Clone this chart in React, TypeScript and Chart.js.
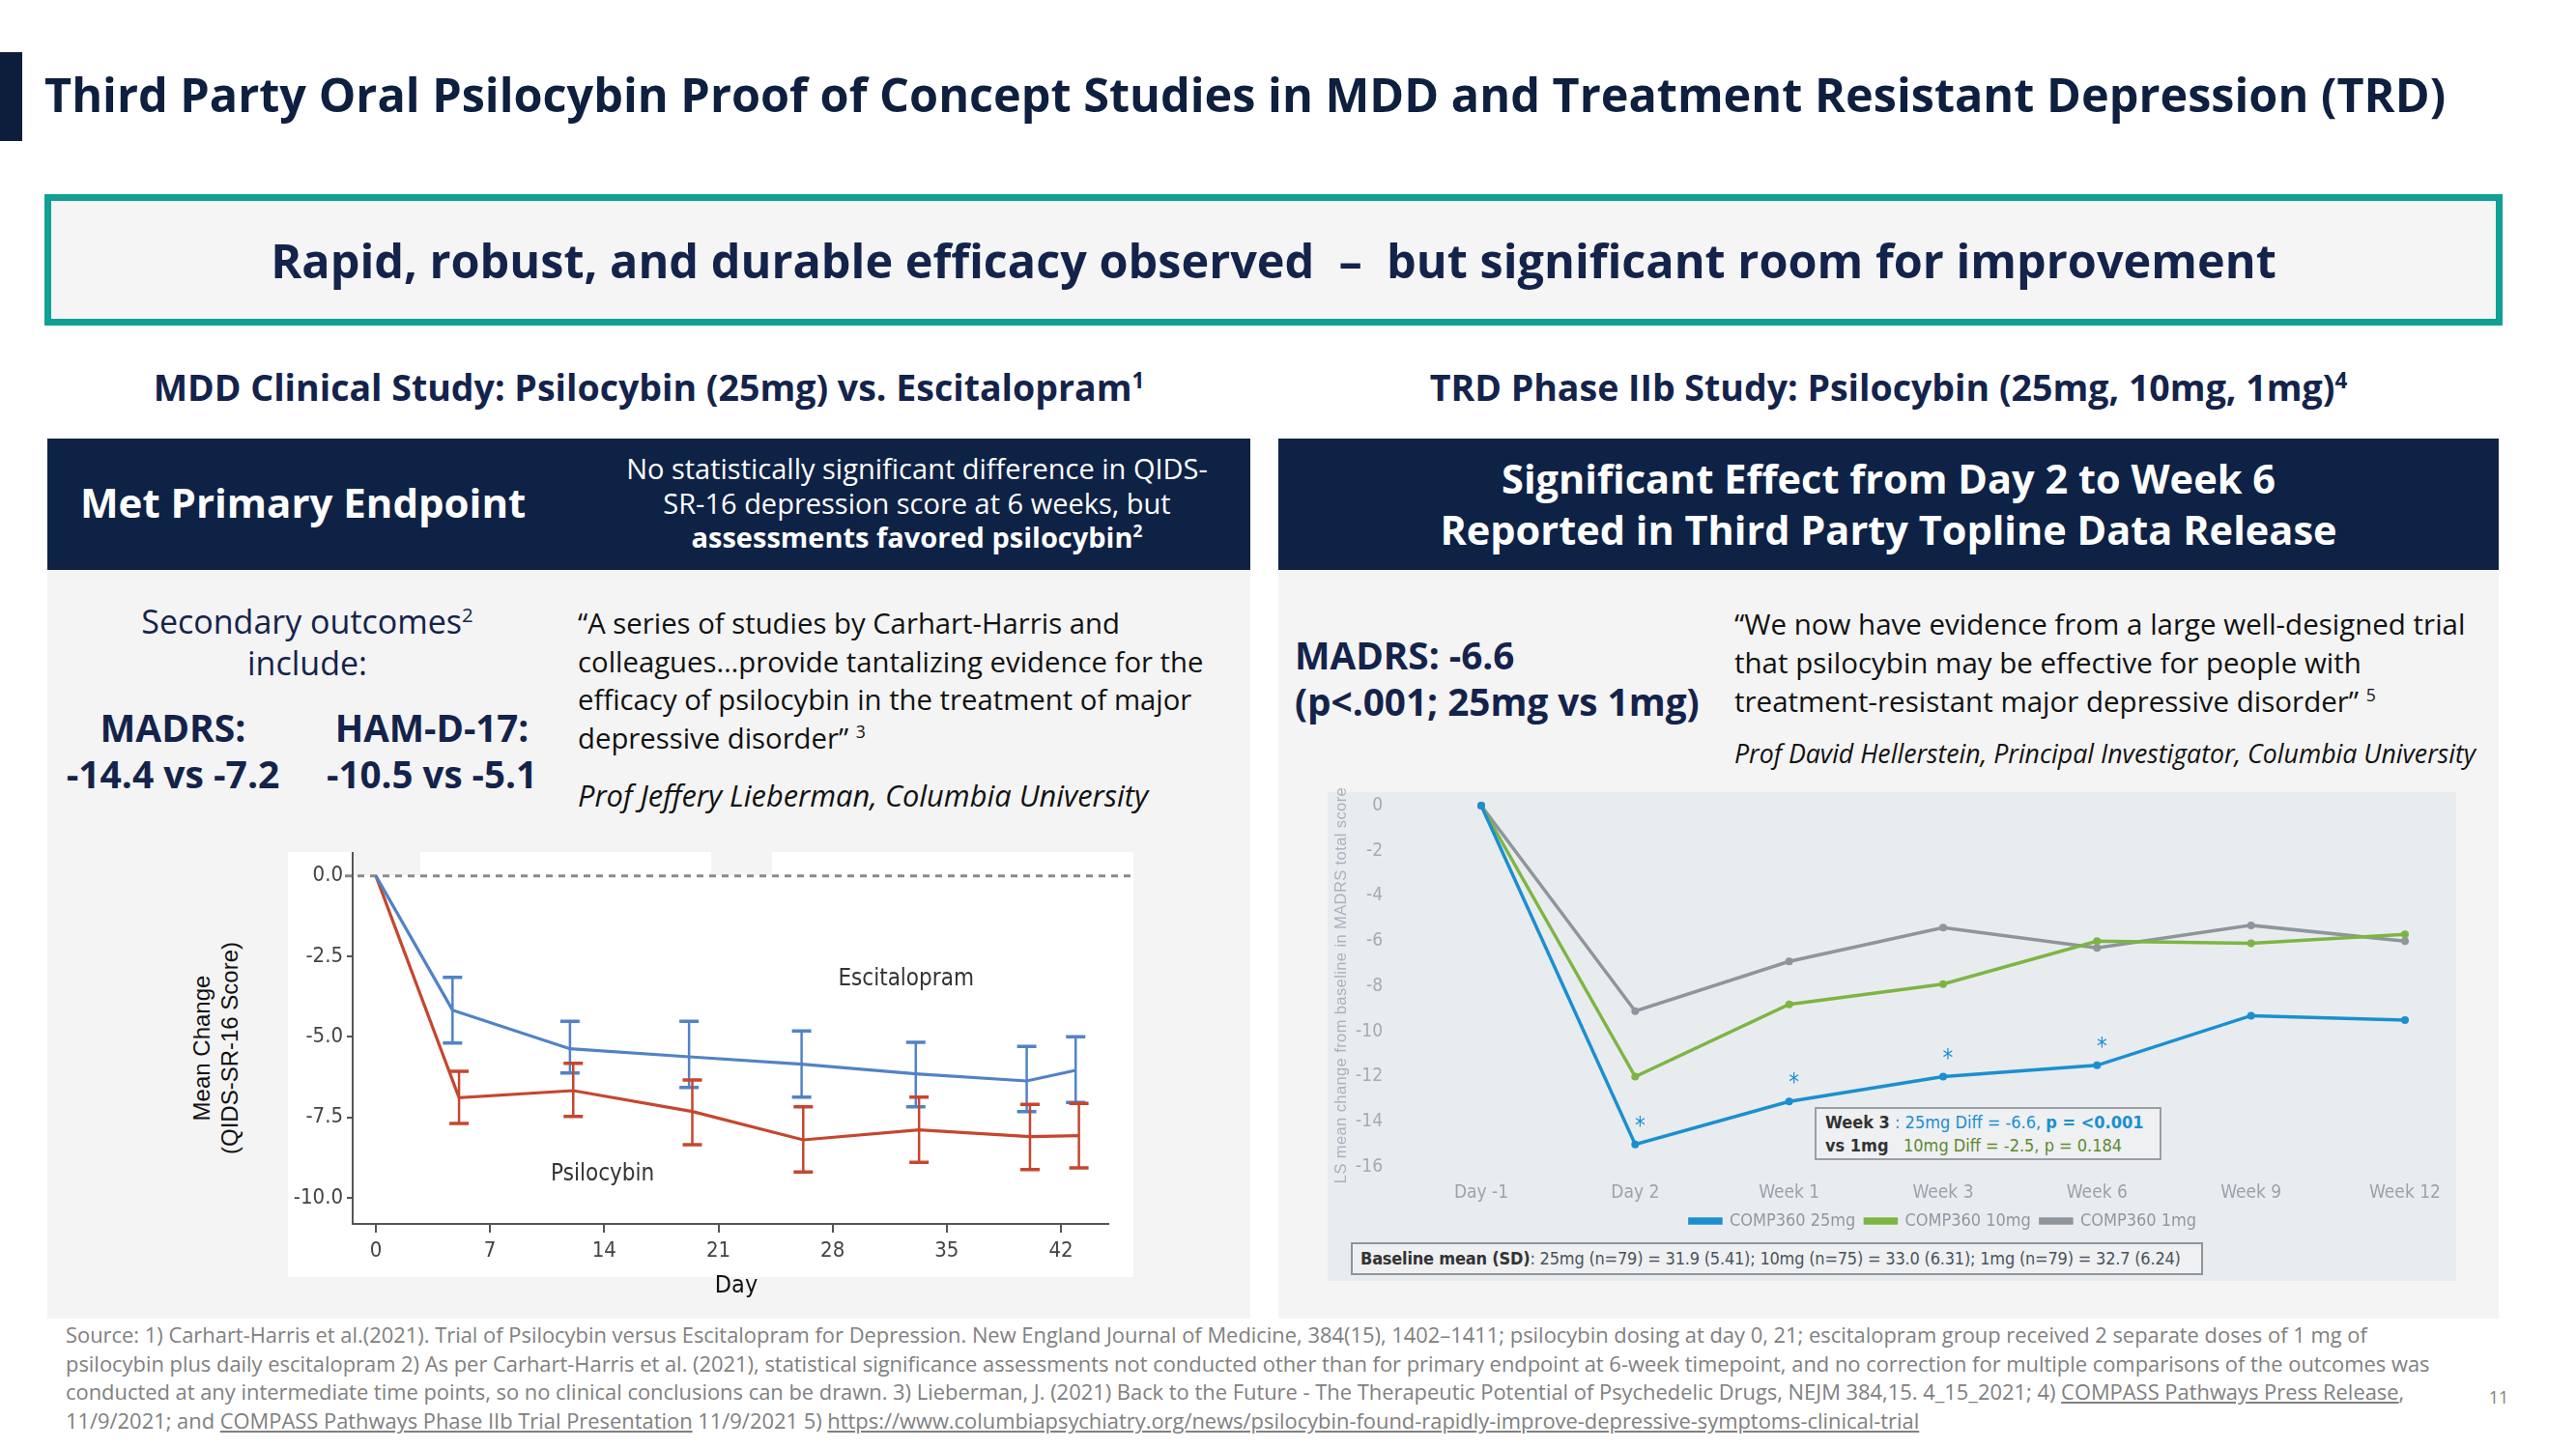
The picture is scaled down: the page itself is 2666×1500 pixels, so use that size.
import React, { useEffect, useRef } from 'react';
import { Chart, registerables } from 'chart.js';

Chart.register(...registerables);

// ---------- Left chart (MDD study) data ----------
const mddDayTicks = [0, 7, 14, 21, 28, 35, 42];
const mddYTicks = [0, -2.5, -5, -7.5, -10];
const escDays = [0, 4.7, 11.9, 19.2, 26.1, 33.1, 39.9, 42.9];
const escMean = [0, -4.17, -5.37, -5.62, -5.85, -6.15, -6.37, -6.04];
const escUpper = [0, -3.15, -4.52, -4.52, -4.82, -5.17, -5.3, -5.0];
const escLower = [0, -5.19, -6.12, -6.57, -6.87, -7.17, -7.32, -7.04];
const psiDays = [0, 5.1, 12.1, 19.4, 26.2, 33.3, 40.1, 43.1];
const psiMean = [0, -6.89, -6.67, -7.32, -8.2, -7.89, -8.1, -8.07];
const psiUpper = [0, -6.07, -5.82, -6.34, -7.17, -6.87, -7.1, -7.07];
const psiLower = [0, -7.69, -7.47, -8.35, -9.2, -8.9, -9.12, -9.07];
const seriesNames = ['Escitalopram', 'Psilocybin'];
const seriesLabelDay = [32.5, 13.9];
const seriesLabelValue = [-3.22, -9.27];

// ---------- Right chart (TRD study) data ----------
const trdLabels = ['Day -1', 'Day 2', 'Week 1', 'Week 3', 'Week 6', 'Week 9', 'Week 12'];
const trdYTicks = [0, -2, -4, -6, -8, -10, -12, -14, -16];
const dose25 = [0, -15.0, -13.1, -12.0, -11.5, -9.3, -9.5];
const dose10 = [0, -12.0, -8.8, -7.9, -6.0, -6.1, -5.7];
const dose1 = [0, -9.1, -6.9, -5.4, -6.3, -5.3, -6.0];
const trdSeriesNames = ['COMP360 25mg', 'COMP360 10mg', 'COMP360 1mg'];
const starIndices = [1, 2, 3, 4];

const NAVY = '#0e2246';
const TEXT_NAVY = '#14234b';
const ESC_COLOR = '#5282c6';
const PSI_COLOR = '#c6462f';
const C25 = '#1b8fd0';
const C10 = '#7db543';
const C1 = '#8e959b';
const NARROW = "'Liberation Sans Narrow', 'Arial Narrow', 'DejaVu Sans Condensed', 'Open Sans', sans-serif";
const OPEN = "'Open Sans', 'Noto Sans', sans-serif";

const mddPlugin = {
  id: 'mddExtras',
  beforeDatasetsDraw(chart: any) {
    const { ctx, scales } = chart;
    const y0 = scales.y.getPixelForValue(0);
    ctx.save();
    ctx.strokeStyle = '#8a8a8a';
    ctx.lineWidth = 3;
    ctx.setLineDash([7, 6]);
    ctx.beginPath();
    ctx.moveTo(chart.chartArea.left - 8, y0);
    ctx.lineTo(chart.width, y0);
    ctx.stroke();
    ctx.restore();
  },
  afterDatasetsDraw(chart: any) {
    const { ctx, scales } = chart;
    const x = scales.x;
    const y = scales.y;
    const series = [
      { days: escDays, lo: escLower, hi: escUpper, color: ESC_COLOR },
      { days: psiDays, lo: psiLower, hi: psiUpper, color: PSI_COLOR },
    ];
    ctx.save();
    series.forEach((s) => {
      ctx.strokeStyle = s.color;
      s.days.forEach((d, i) => {
        if (s.lo[i] === s.hi[i]) return;
        const px = x.getPixelForValue(d);
        const y1 = y.getPixelForValue(s.hi[i]);
        const y2 = y.getPixelForValue(s.lo[i]);
        ctx.lineWidth = 2.5;
        ctx.beginPath();
        ctx.moveTo(px, y1);
        ctx.lineTo(px, y2);
        ctx.stroke();
        ctx.lineWidth = 3.5;
        ctx.beginPath();
        ctx.moveTo(px - 10, y1);
        ctx.lineTo(px + 10, y1);
        ctx.moveTo(px - 10, y2);
        ctx.lineTo(px + 10, y2);
        ctx.stroke();
      });
    });
    ctx.fillStyle = '#333';
    ctx.font = `24px ${NARROW}`;
    ctx.textAlign = 'center';
    ctx.textBaseline = 'middle';
    seriesNames.forEach((n, i) => {
      ctx.fillText(n, x.getPixelForValue(seriesLabelDay[i]), y.getPixelForValue(seriesLabelValue[i]));
    });
    ctx.restore();
  },
};

const trdPlugin = {
  id: 'trdStars',
  afterDatasetsDraw(chart: any) {
    const { ctx } = chart;
    const meta = chart.getDatasetMeta(0);
    ctx.save();
    ctx.fillStyle = C25;
    ctx.font = `24px ${NARROW}`;
    ctx.textAlign = 'center';
    ctx.textBaseline = 'middle';
    starIndices.forEach((i) => {
      const pt = meta.data[i];
      ctx.fillText('*', pt.x + 5, pt.y - 18);
    });
    ctx.restore();
  },
};

function MddChart() {
  const ref = useRef<HTMLCanvasElement>(null);
  useEffect(() => {
    const tickFont = { family: NARROW, size: 22 };
    const chart = new Chart(ref.current as HTMLCanvasElement, {
      type: 'line',
      data: {
        datasets: [
          {
            label: 'Escitalopram',
            data: escDays.map((d, i) => ({ x: d, y: escMean[i] })),
            borderColor: ESC_COLOR,
            backgroundColor: ESC_COLOR,
            borderWidth: 3.2,
            pointRadius: 0,
            tension: 0,
          },
          {
            label: 'Psilocybin',
            data: psiDays.map((d, i) => ({ x: d, y: psiMean[i] })),
            borderColor: PSI_COLOR,
            backgroundColor: PSI_COLOR,
            borderWidth: 3.2,
            pointRadius: 0,
            tension: 0,
          },
        ],
      },
      options: {
        animation: false,
        responsive: false,
        devicePixelRatio: 1,
        layout: { padding: { top: 0, right: 26, bottom: 0, left: 0 } },
        plugins: { legend: { display: false }, tooltip: { enabled: false } },
        scales: {
          x: {
            type: 'linear',
            min: -1.42,
            max: 44.9,
            afterBuildTicks: (a: any) => {
              a.ticks = mddDayTicks.map((v) => ({ value: v }));
            },
            afterFit: (a: any) => {
              a.height = 55;
              a.paddingLeft = 0;
              a.paddingRight = 0;
            },
            grid: { display: true, drawOnChartArea: false, drawTicks: true, tickLength: 9, color: '#555', lineWidth: 2 },
            border: { display: true, color: '#555', width: 2 },
            ticks: { color: '#444', font: tickFont, padding: 6, maxRotation: 0 },
          },
          y: {
            type: 'linear',
            min: -10.81,
            max: 0.74,
            afterBuildTicks: (a: any) => {
              a.ticks = mddYTicks.map((v) => ({ value: v }));
            },
            afterFit: (a: any) => {
              a.width = 67;
              a.paddingTop = 0;
              a.paddingBottom = 0;
            },
            grid: { display: true, drawOnChartArea: false, drawTicks: true, tickLength: 6, color: '#555', lineWidth: 2 },
            border: { display: true, color: '#555', width: 2 },
            ticks: {
              color: '#444',
              font: tickFont,
              padding: 4,
              callback: (v: any) => Number(v).toFixed(1),
            },
          },
        },
      },
      plugins: [mddPlugin],
    } as any);
    return () => chart.destroy();
  }, []);
  return <canvas ref={ref} width={875} height={440} style={{ position: 'absolute', left: 298, top: 882, width: 875, height: 440 }} />;
}

function TrdChart() {
  const ref = useRef<HTMLCanvasElement>(null);
  useEffect(() => {
    const mk = (label: string, data: number[], color: string) => ({
      label,
      data,
      borderColor: color,
      backgroundColor: color,
      borderWidth: 3.5,
      pointRadius: 4,
      pointBorderWidth: 0,
      pointBackgroundColor: color,
      tension: 0,
      clip: false,
    });
    const chart = new Chart(ref.current as HTMLCanvasElement, {
      type: 'line',
      data: {
        labels: trdLabels,
        datasets: [
          mk(trdSeriesNames[0], dose25, C25),
          mk(trdSeriesNames[1], dose10, C10),
          mk(trdSeriesNames[2], dose1, C1),
        ],
      },
      options: {
        animation: false,
        responsive: false,
        devicePixelRatio: 1,
        layout: { padding: { top: 14, right: 53, bottom: 0, left: 0 } },
        plugins: {
          tooltip: { enabled: false },
          legend: {
            position: 'bottom',
            fullSize: false,
            labels: {
              boxWidth: 32,
              boxHeight: 4,
              color: '#8f98a0',
              font: { family: NARROW, size: 18 },
              padding: 10,
            },
          },
        },
        scales: {
          x: {
            offset: false,
            grid: { display: false },
            border: { display: false },
            afterFit: (a: any) => {
              a.height = 37;
              a.paddingLeft = 0;
              a.paddingRight = 0;
            },
            ticks: { color: '#9aa3ab', font: { family: NARROW, size: 19 }, padding: 8, maxRotation: 0 },
          },
          y: {
            min: -16,
            max: 0,
            afterBuildTicks: (a: any) => {
              a.ticks = trdYTicks.map((v) => ({ value: v }));
            },
            afterFit: (a: any) => {
              a.width = 159;
              a.paddingTop = 0;
              a.paddingBottom = 0;
            },
            grid: { display: false },
            border: { display: false },
            ticks: { color: '#a3abb3', font: { family: NARROW, size: 19 }, padding: 94 },
          },
        },
      },
      plugins: [trdPlugin],
    } as any);
    return () => chart.destroy();
  }, []);
  return <canvas ref={ref} width={1168} height={463} style={{ position: 'absolute', left: 1374, top: 820, width: 1168, height: 463 }} />;
}

const abs = (s: React.CSSProperties): React.CSSProperties => ({ position: 'absolute', ...s });

export default function App() {
  const sup = { fontSize: '0.6em', verticalAlign: 'super', lineHeight: 0 } as React.CSSProperties;
  return (
    <div style={{ position: 'absolute', left: 0, top: 0, width: 2666, height: 1500, background: '#ffffff', fontFamily: OPEN, overflow: 'hidden' }}>
      {/* Title */}
      <div style={abs({ left: 0, top: 54, width: 23, height: 92, background: '#0d1e3c' })} />
      <div style={abs({ left: 46, top: 67, height: 60, lineHeight: '60px', fontSize: 48.6, fontWeight: 700, color: '#0e1f3f', whiteSpace: 'nowrap' })}>
        Third Party Oral Psilocybin Proof of Concept Studies in MDD and Treatment Resistant Depression (TRD)
      </div>

      {/* Teal banner */}
      <div
        style={abs({
          left: 46,
          top: 201,
          width: 2544,
          height: 136,
          boxSizing: 'border-box',
          border: '7px solid #10a095',
          background: '#f5f5f5',
          display: 'flex',
          alignItems: 'center',
          justifyContent: 'center',
          fontSize: 48.6,
          fontWeight: 700,
          color: TEXT_NAVY,
          whiteSpace: 'pre',
        })}
      >
        {'Rapid, robust, and durable efficacy observed  –  but significant room for improvement'}
      </div>

      {/* Section subtitles */}
      <div style={abs({ left: 49, top: 376, width: 1245, lineHeight: '50px', textAlign: 'center', fontSize: 37.5, fontWeight: 700, color: TEXT_NAVY, whiteSpace: 'nowrap' })}>
        MDD Clinical Study: Psilocybin (25mg) vs. Escitalopram<span style={sup}>1</span>
      </div>
      <div style={abs({ left: 1323, top: 376, width: 1263, lineHeight: '50px', textAlign: 'center', fontSize: 37.5, fontWeight: 700, color: TEXT_NAVY, whiteSpace: 'nowrap' })}>
        TRD Phase IIb Study: Psilocybin (25mg, 10mg, 1mg)<span style={sup}>4</span>
      </div>

      {/* Left panel */}
      <div style={abs({ left: 49, top: 454, width: 1245, height: 136, background: NAVY })} />
      <div style={abs({ left: 49, top: 590, width: 1245, height: 775, background: '#f4f4f4' })} />
      <div style={abs({ left: 83, top: 490, lineHeight: '60px', fontSize: 42, fontWeight: 700, color: '#fff', whiteSpace: 'nowrap' })}>Met Primary Endpoint</div>
      <div style={abs({ left: 600, top: 467, width: 698, lineHeight: '35.5px', textAlign: 'center', fontSize: 29, color: '#fff', whiteSpace: 'nowrap' })}>
        No statistically significant difference in QIDS-
        <br />
        SR-16 depression score at 6 weeks, but
        <br />
        <b>
          assessments favored psilocybin<span style={sup}>2</span>
        </b>
      </div>

      <div style={abs({ left: 118, top: 622, width: 400, lineHeight: '43px', textAlign: 'center', fontSize: 34, color: TEXT_NAVY, whiteSpace: 'nowrap' })}>
        Secondary outcomes<span style={sup}>2</span>
        <br />
        include:
      </div>
      <div style={abs({ left: 29, top: 729, width: 300, lineHeight: '48px', textAlign: 'center', fontSize: 39, fontWeight: 700, color: TEXT_NAVY, whiteSpace: 'nowrap' })}>
        MADRS:
        <br />
        -14.4 vs -7.2
      </div>
      <div style={abs({ left: 297, top: 729, width: 300, lineHeight: '48px', textAlign: 'center', fontSize: 38.5, fontWeight: 700, color: TEXT_NAVY, whiteSpace: 'nowrap' })}>
        HAM-D-17:
        <br />
        -10.5 vs -5.1
      </div>
      <div style={abs({ left: 598, top: 626, lineHeight: '39.7px', fontSize: 29.3, color: '#111', whiteSpace: 'nowrap' })}>
        “A series of studies by Carhart-Harris and
        <br />
        colleagues…provide tantalizing evidence for the
        <br />
        efficacy of psilocybin in the treatment of major
        <br />
        depressive disorder” <span style={sup}>3</span>
      </div>
      <div style={abs({ left: 598, top: 804, lineHeight: '38px', fontSize: 30.8, fontStyle: 'italic', color: '#111', whiteSpace: 'nowrap' })}>
        Prof Jeffery Lieberman, Columbia University
      </div>

      {/* Left chart */}
      <div style={abs({ left: 298, top: 882, width: 875, height: 440, background: '#ffffff' })} />
      <div style={abs({ left: 367, top: 882, width: 68, height: 24, background: '#f4f4f4' })} />
      <div style={abs({ left: 736, top: 882, width: 63, height: 24, background: '#f4f4f4' })} />
      <MddChart />
      <div
        style={abs({
          left: 224 - 150,
          top: 1085 - 30,
          width: 300,
          height: 60,
          lineHeight: '29px',
          textAlign: 'center',
          fontSize: 24,
          fontFamily: "'Liberation Sans', Arial, sans-serif",
          color: '#111',
          transform: 'rotate(-90deg)',
          whiteSpace: 'nowrap',
        })}
      >
        Mean Change
        <br />
        (QIDS-SR-16 Score)
      </div>
      <div style={abs({ left: 712, top: 1314, width: 100, lineHeight: '32px', textAlign: 'center', fontSize: 25, fontFamily: NARROW, color: '#111' })}>Day</div>

      {/* Right panel */}
      <div style={abs({ left: 1323, top: 454, width: 1263, height: 136, background: NAVY })} />
      <div style={abs({ left: 1323, top: 590, width: 1263, height: 775, background: '#f4f4f4' })} />
      <div style={abs({ left: 1323, top: 469, width: 1263, lineHeight: '53px', textAlign: 'center', fontSize: 41.5, fontWeight: 700, color: '#fff', whiteSpace: 'nowrap' })}>
        Significant Effect from Day 2 to Week 6
        <br />
        Reported in Third Party Topline Data Release
      </div>
      <div style={abs({ left: 1340, top: 654, lineHeight: '48px', fontSize: 38.7, fontWeight: 700, color: TEXT_NAVY, whiteSpace: 'nowrap' })}>
        MADRS: -6.6
        <br />
        (p&lt;.001; 25mg vs 1mg)
      </div>
      <div style={abs({ left: 1795, top: 626, lineHeight: '40px', fontSize: 29.5, color: '#111', whiteSpace: 'nowrap' })}>
        “We now have evidence from a large well-designed trial
        <br />
        that psilocybin may be effective for people with
        <br />
        treatment-resistant major depressive disorder” <span style={sup}>5</span>
      </div>
      <div style={abs({ left: 1795, top: 763, lineHeight: '34px', fontSize: 26.7, fontStyle: 'italic', color: '#111', whiteSpace: 'nowrap' })}>
        Prof David Hellerstein, Principal Investigator, Columbia University
      </div>

      {/* Right chart */}
      <div style={abs({ left: 1374, top: 820, width: 1168, height: 506, background: '#e9ecef' })} />
      <TrdChart />
      <div
        style={abs({
          left: 1387 - 220,
          top: 1020 - 12,
          width: 440,
          height: 24,
          lineHeight: '24px',
          textAlign: 'center',
          fontSize: 16.5,
          letterSpacing: '0.4px',
          fontFamily: "'Liberation Sans', Arial, sans-serif",
          color: '#aab2ba',
          transform: 'rotate(-90deg)',
          whiteSpace: 'nowrap',
        })}
      >
        LS mean change from baseline in MADRS total score
      </div>
      <div
        style={abs({
          left: 1878,
          top: 1146,
          width: 359,
          height: 55,
          boxSizing: 'border-box',
          border: '2px solid #98a0a6',
          background: '#eef0f2',
          paddingLeft: 9,
          paddingTop: 2,
          lineHeight: '24px',
          fontSize: 18,
          fontFamily: NARROW,
          whiteSpace: 'pre',
          color: '#333',
        })}
      >
        <b>Week 3</b>
        <span style={{ color: C25 }}> : 25mg Diff = -6.6, </span>
        <b style={{ color: C25 }}>p = &lt;0.001</b>
        <br />
        <b>vs 1mg</b>
        <span style={{ color: '#5e8a2c' }}>{'   10mg Diff = -2.5, p = 0.184'}</span>
      </div>
      <div
        style={abs({
          left: 1398,
          top: 1286,
          width: 882,
          height: 34,
          boxSizing: 'border-box',
          border: '2px solid #8d959b',
          background: '#eef0f2',
          paddingLeft: 8,
          lineHeight: '30px',
          fontSize: 18,
          letterSpacing: '-0.2px',
          fontFamily: NARROW,
          whiteSpace: 'nowrap',
          color: '#4a545c',
        })}
      >
        <b style={{ color: '#333' }}>Baseline mean (SD)</b>: 25mg (n=79) = 31.9 (5.41); 10mg (n=75) = 33.0 (6.31); 1mg (n=79) = 32.7 (6.24)
      </div>

      {/* Footer */}
      <div style={abs({ left: 68, top: 1367, lineHeight: '29.7px', fontSize: 21.9, color: '#808080', whiteSpace: 'nowrap' })}>
        Source: 1) Carhart-Harris et al.(2021). Trial of Psilocybin versus Escitalopram for Depression. New England Journal of Medicine, 384(15), 1402–1411; psilocybin dosing at day 0, 21; escitalopram group received 2 separate doses of 1 mg of
        <br />
        psilocybin plus daily escitalopram 2) As per Carhart-Harris et al. (2021), statistical significance assessments not conducted other than for primary endpoint at 6-week timepoint, and no correction for multiple comparisons of the outcomes was
        <br />
        conducted at any intermediate time points, so no clinical conclusions can be drawn. 3) Lieberman, J. (2021) Back to the Future - The Therapeutic Potential of Psychedelic Drugs, NEJM 384,15. 4_15_2021; 4) <u>COMPASS Pathways Press Release</u>,
        <br />
        11/9/2021; and <u>COMPASS Pathways Phase IIb Trial Presentation</u> 11/9/2021 5) <u>https://www.columbiapsychiatry.org/news/psilocybin-found-rapidly-improve-depressive-symptoms-clinical-trial</u>
      </div>
      <div style={abs({ left: 2570, top: 1432, width: 32, textAlign: 'center', lineHeight: '28px', fontSize: 18, color: '#808080' })}>11</div>
    </div>
  );
}
